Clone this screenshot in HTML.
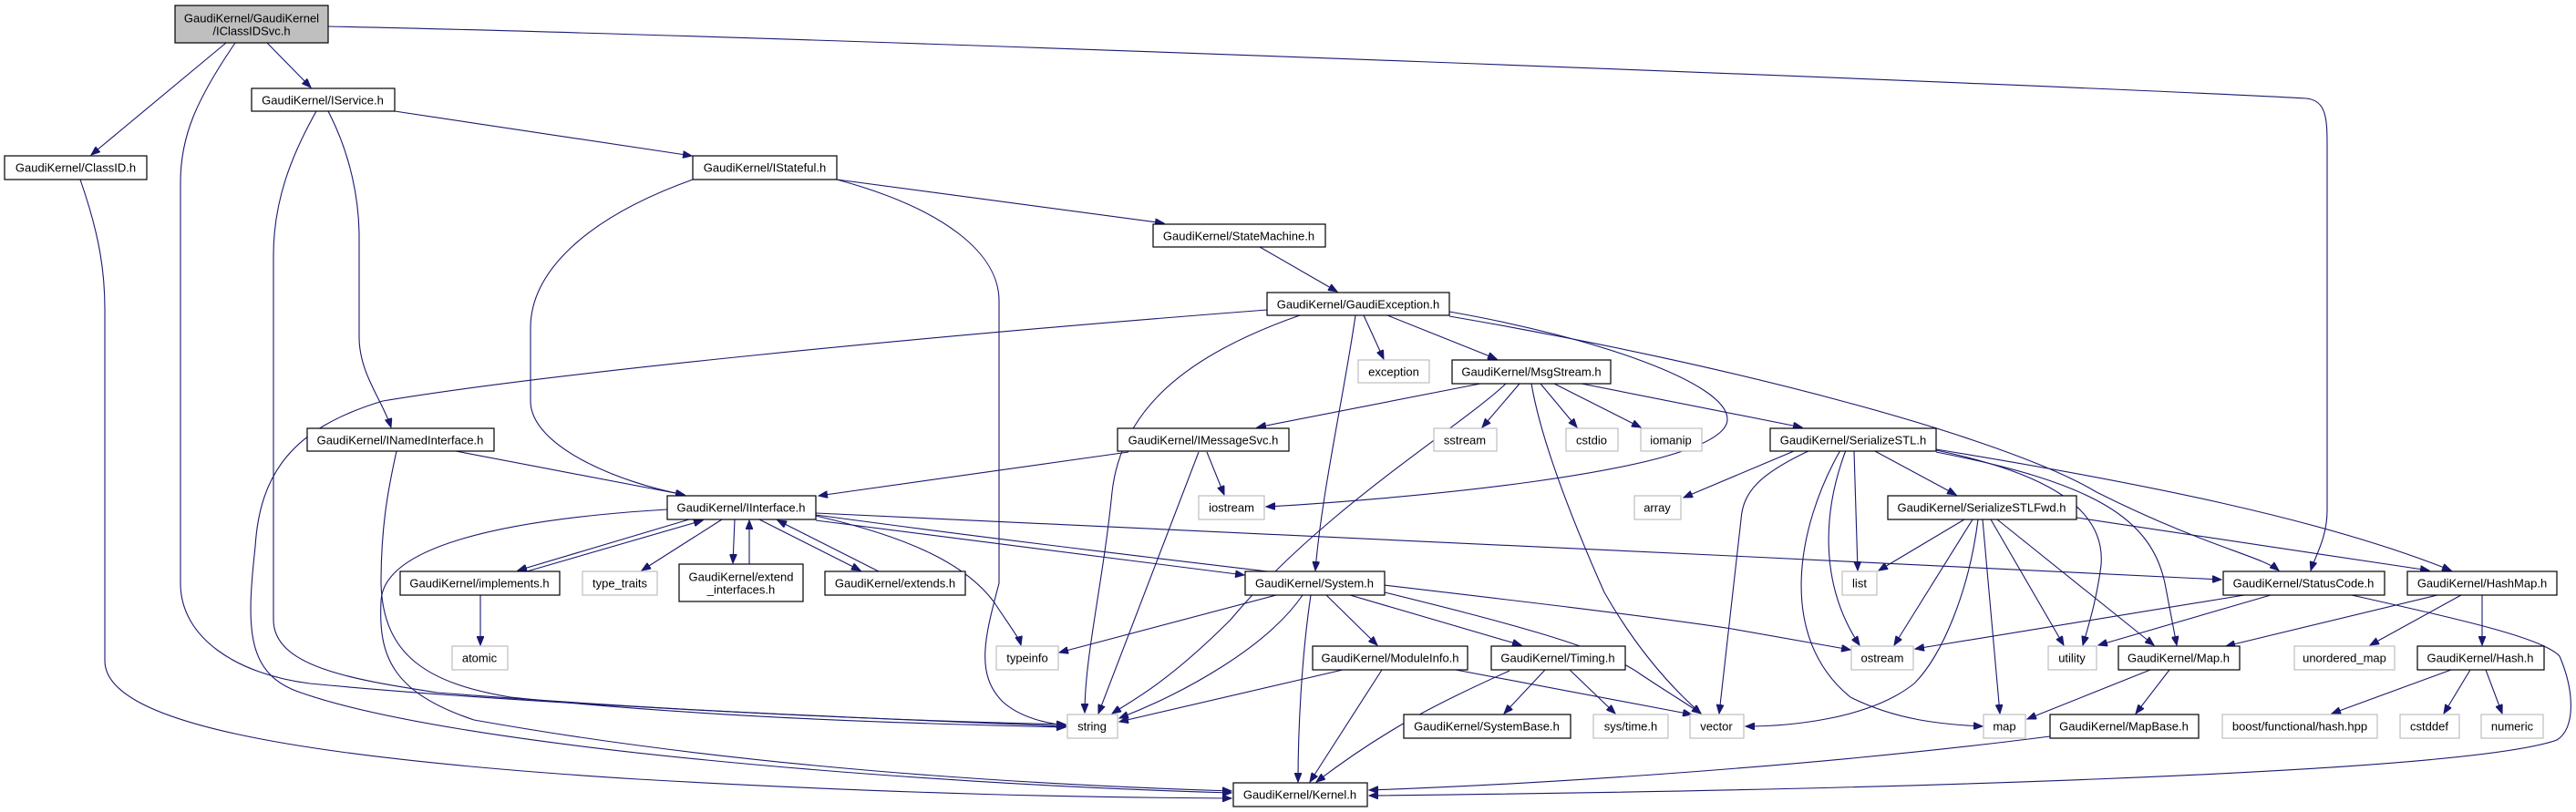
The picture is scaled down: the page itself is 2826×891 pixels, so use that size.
<!DOCTYPE html>
<html><head><meta charset="utf-8"><style>
html,body{margin:0;padding:0;background:#fff;width:2826px;height:891px;overflow:hidden}
svg{display:block}
text{font-family:"Liberation Sans",sans-serif;font-size:13px;fill:#000}
.n{fill:#fff;stroke:#000;stroke-width:1.2}
.g{fill:#fff;stroke:#bfbfbf;stroke-width:1.2}
.e{fill:none;stroke:#191970;stroke-width:1.1}
</style></head><body>
<svg width="2826" height="891" viewBox="0 0 2826 891" xmlns="http://www.w3.org/2000/svg">
<defs><marker id="a" markerWidth="11" markerHeight="8" refX="10" refY="4" orient="auto" markerUnits="userSpaceOnUse"><path d="M0,0 L10,4 L0,8 Z" fill="#191970" stroke="#191970"/></marker></defs>
<g class="e" marker-end="url(#a)">
<path d="M248,47 L100,170"/>
<path d="M293,47 L341,96"/>
<path d="M258,47 C215,110 198,150 198,200 L198,640 C198,700 260,740 340,750 C600,775 1000,790 1169,797"/>
<path d="M360,29 C900,40 2300,95 2530,108 C2552,110 2553,130 2553,160 L2553,560 C2553,590 2540,610 2535,626"/>
<path d="M88,197 C110,260 115,300 115,340 L115,725 C115,790 300,830 700,855 C1000,872 1200,875 1351,876"/>
<path d="M433,122 L759,171"/>
<path d="M347,122 C320,170 300,220 300,280 L300,680 C300,730 380,745 480,760 C800,785 1050,792 1169,795"/>
<path d="M360,122 C385,170 394,220 394,260 L394,370 C394,410 420,440 429,469"/>
<path d="M918,197 L1277,245"/>
<path d="M760,197 C640,240 582,300 582,360 L582,440 C582,490 680,530 751,543"/>
<path d="M918,197 C1040,230 1096,280 1096,330 L1096,640 C1080,700 1070,740 1100,770 C1120,788 1150,794 1169,796"/>
<path d="M1382,271 L1467,320"/>
<path d="M1390,340 C1000,370 600,410 420,440 C320,470 285,520 280,600 C270,690 270,740 330,760 C500,820 1000,860 1351,870"/>
<path d="M1426,346 C1300,390 1230,450 1220,540 C1210,640 1190,720 1190,782"/>
<path d="M1496,346 L1518,394"/>
<path d="M1522,346 L1642,394"/>
<path d="M1487,346 C1475,430 1450,540 1443,626"/>
<path d="M1590,342 C1750,370 1895,420 1895,460 C1895,520 1500,550 1389,556"/>
<path d="M1590,347 C1900,400 2200,480 2300,540 C2420,600 2480,610 2500,626"/>
<path d="M1624,421 L1379,469"/>
<path d="M1652,421 C1600,470 1450,560 1350,680 C1280,750 1240,770 1220,783"/>
<path d="M1667,421 L1626,469"/>
<path d="M1690,421 L1730,469"/>
<path d="M1705,421 L1800,469"/>
<path d="M1735,421 L1977,469"/>
<path d="M1680,421 C1690,480 1720,560 1760,650 C1800,720 1840,760 1866,783"/>
<path d="M1238,496 L898,544"/>
<path d="M1315,496 L1205,783"/>
<path d="M1324,496 L1343,543"/>
<path d="M1968,495 L1847,546"/>
<path d="M2055,494 L2146,543"/>
<path d="M2034,495 L2038,626"/>
<path d="M1986,494 C1930,520 1912,540 1910,570 L1886,783"/>
<path d="M2025,494 C2000,560 1995,640 2040,708"/>
<path d="M2019,494 C1970,580 1950,700 2030,765 C2080,790 2130,795 2175,797"/>
<path d="M2124,494 C2250,520 2310,560 2305,620 C2300,660 2290,690 2285,708"/>
<path d="M2124,496 C2300,530 2360,570 2375,640 L2388,708"/>
<path d="M2124,493 C2350,530 2550,570 2689,626"/>
<path d="M2155,570 L2061,626"/>
<path d="M2164,570 L2078,708"/>
<path d="M2170,570 C2160,650 2130,720 2100,750 C2050,790 1960,797 1915,797"/>
<path d="M2175,570 L2194,783"/>
<path d="M2184,570 L2264,708"/>
<path d="M2191,570 L2363,708"/>
<path d="M2278,568 L2665,626"/>
<path d="M2462,653 L2101,712"/>
<path d="M2491,653 L2302,708"/>
<path d="M2580,653 C2700,680 2790,700 2808,720 C2825,760 2825,800 2805,812 C2700,850 2000,868 1502,873"/>
<path d="M2674,653 L2442,709"/>
<path d="M2700,653 L2600,708"/>
<path d="M2723,653 L2723,708"/>
<path d="M2689,735 L2558,783"/>
<path d="M2710,735 L2681,783"/>
<path d="M2727,735 L2745,783"/>
<path d="M2359,735 L2224,789"/>
<path d="M2380,735 L2343,783"/>
<path d="M2249,808 C2000,840 1700,860 1502,867"/>
<path d="M1400,653 L1162,716"/>
<path d="M1429,653 C1390,710 1300,760 1228,788"/>
<path d="M1438,653 C1428,720 1424,800 1424,858"/>
<path d="M1455,653 L1511,708"/>
<path d="M1481,653 L1669,708"/>
<path d="M1519,650 C1640,680 1760,710 1800,740 C1830,760 1855,775 1866,783"/>
<path d="M1473,735 L1228,792"/>
<path d="M1516,735 L1437,858"/>
<path d="M1597,735 L1856,784"/>
<path d="M1656,736 C1580,770 1520,800 1444,858"/>
<path d="M1695,735 L1650,783"/>
<path d="M1722,735 L1772,783"/>
<path d="M756,570 L568,626"/>
<path d="M578,627 L771,571"/>
<path d="M792,570 L704,626"/>
<path d="M806,570 L804,618"/>
<path d="M822,619 L822,571"/>
<path d="M833,570 L944,626"/>
<path d="M964,627 L853,571"/>
<path d="M895,566 C1000,590 1060,620 1090,660 C1110,690 1118,700 1120,708"/>
<path d="M895,571 L1365,631"/>
<path d="M895,565 C1300,620 1700,660 1900,690 L2030,713"/>
<path d="M895,563 L1900,610 L2437,636"/>
<path d="M732,559 C550,570 420,600 418,660 C415,720 430,760 520,790 C800,840 1100,860 1351,868"/>
<path d="M500,495 L751,543"/>
<path d="M435,495 C425,540 418,580 418,640 C420,720 470,750 560,765 C800,790 1050,795 1169,798"/>
<path d="M527,653 L527,708"/>
</g>
<g>
<rect x="192" y="6" width="168" height="41" fill="#bfbfbf" stroke="#000" stroke-width="1.2"/>
<text x="276" y="20" text-anchor="middle" dominant-baseline="central">GaudiKernel/GaudiKernel</text>
<text x="276" y="34" text-anchor="middle" dominant-baseline="central">/IClassIDSvc.h</text>
<rect class="n" x="745" y="619" width="136" height="41"/>
<text x="813" y="633" text-anchor="middle" dominant-baseline="central">GaudiKernel/extend</text>
<text x="813" y="647" text-anchor="middle" dominant-baseline="central">_interfaces.h</text>
</g>
<g text-anchor="middle" dominant-baseline="central">
<rect class="n" x="276" y="97" width="157" height="25"/><text x="354" y="110">GaudiKernel/IService.h</text>
<rect class="n" x="5" y="171" width="156" height="26"/><text x="83" y="184">GaudiKernel/ClassID.h</text>
<rect class="n" x="760" y="171" width="158" height="26"/><text x="839" y="184">GaudiKernel/IStateful.h</text>
<rect class="n" x="1265" y="246" width="189" height="25"/><text x="1359" y="259">GaudiKernel/StateMachine.h</text>
<rect class="n" x="1390" y="321" width="200" height="25"/><text x="1490" y="334">GaudiKernel/GaudiException.h</text>
<rect class="g" x="1490" y="395" width="78" height="25"/><text x="1529" y="408">exception</text>
<rect class="n" x="1593" y="395" width="174" height="26"/><text x="1680" y="408">GaudiKernel/MsgStream.h</text>
<rect class="n" x="337" y="470" width="205" height="25"/><text x="439" y="483">GaudiKernel/INamedInterface.h</text>
<rect class="n" x="1226" y="470" width="188" height="25"/><text x="1320" y="483">GaudiKernel/IMessageSvc.h</text>
<rect class="g" x="1573" y="470" width="69" height="25"/><text x="1607" y="483">sstream</text>
<rect class="g" x="1718" y="470" width="57" height="25"/><text x="1746" y="483">cstdio</text>
<rect class="g" x="1800" y="470" width="67" height="25"/><text x="1833" y="483">iomanip</text>
<rect class="n" x="1942" y="470" width="182" height="25"/><text x="2033" y="483">GaudiKernel/SerializeSTL.h</text>
<rect class="n" x="732" y="544" width="163" height="26"/><text x="813" y="557">GaudiKernel/IInterface.h</text>
<rect class="g" x="1315" y="544" width="72" height="26"/><text x="1351" y="557">iostream</text>
<rect class="g" x="1793" y="544" width="51" height="26"/><text x="1818" y="557">array</text>
<rect class="n" x="2071" y="544" width="207" height="26"/><text x="2174" y="557">GaudiKernel/SerializeSTLFwd.h</text>
<rect class="n" x="439" y="627" width="175" height="26"/><text x="526" y="640">GaudiKernel/implements.h</text>
<rect class="g" x="639" y="627" width="82" height="26"/><text x="680" y="640">type_traits</text>
<rect class="n" x="905" y="627" width="154" height="26"/><text x="982" y="640">GaudiKernel/extends.h</text>
<rect class="n" x="1366" y="627" width="153" height="26"/><text x="1442" y="640">GaudiKernel/System.h</text>
<rect class="g" x="2021" y="627" width="38" height="26"/><text x="2040" y="640">list</text>
<rect class="n" x="2439" y="627" width="177" height="26"/><text x="2527" y="640">GaudiKernel/StatusCode.h</text>
<rect class="n" x="2641" y="627" width="164" height="26"/><text x="2723" y="640">GaudiKernel/HashMap.h</text>
<rect class="g" x="496" y="709" width="61" height="26"/><text x="526" y="722">atomic</text>
<rect class="g" x="1093" y="709" width="68" height="26"/><text x="1127" y="722">typeinfo</text>
<rect class="n" x="1440" y="709" width="170" height="26"/><text x="1525" y="722">GaudiKernel/ModuleInfo.h</text>
<rect class="n" x="1636" y="709" width="147" height="26"/><text x="1709" y="722">GaudiKernel/Timing.h</text>
<rect class="g" x="2031" y="709" width="68" height="26"/><text x="2065" y="722">ostream</text>
<rect class="g" x="2247" y="709" width="53" height="26"/><text x="2273" y="722">utility</text>
<rect class="n" x="2324" y="709" width="133" height="26"/><text x="2390" y="722">GaudiKernel/Map.h</text>
<rect class="g" x="2517" y="709" width="110" height="26"/><text x="2572" y="722">unordered_map</text>
<rect class="n" x="2652" y="709" width="139" height="26"/><text x="2721" y="722">GaudiKernel/Hash.h</text>
<rect class="g" x="1171" y="784" width="55" height="26"/><text x="1198" y="797">string</text>
<rect class="n" x="1540" y="784" width="183" height="26"/><text x="1631" y="797">GaudiKernel/SystemBase.h</text>
<rect class="g" x="1748" y="784" width="82" height="26"/><text x="1789" y="797">sys/time.h</text>
<rect class="g" x="1854" y="784" width="59" height="26"/><text x="1883" y="797">vector</text>
<rect class="g" x="2176" y="784" width="46" height="26"/><text x="2199" y="797">map</text>
<rect class="n" x="2249" y="784" width="163" height="26"/><text x="2330" y="797">GaudiKernel/MapBase.h</text>
<rect class="g" x="2438" y="784" width="170" height="26"/><text x="2523" y="797">boost/functional/hash.hpp</text>
<rect class="g" x="2633" y="784" width="65" height="26"/><text x="2665" y="797">cstddef</text>
<rect class="g" x="2722" y="784" width="68" height="26"/><text x="2756" y="797">numeric</text>
<rect class="n" x="1353" y="859" width="147" height="26"/><text x="1426" y="872">GaudiKernel/Kernel.h</text>
</g>
</svg>
</body></html>
